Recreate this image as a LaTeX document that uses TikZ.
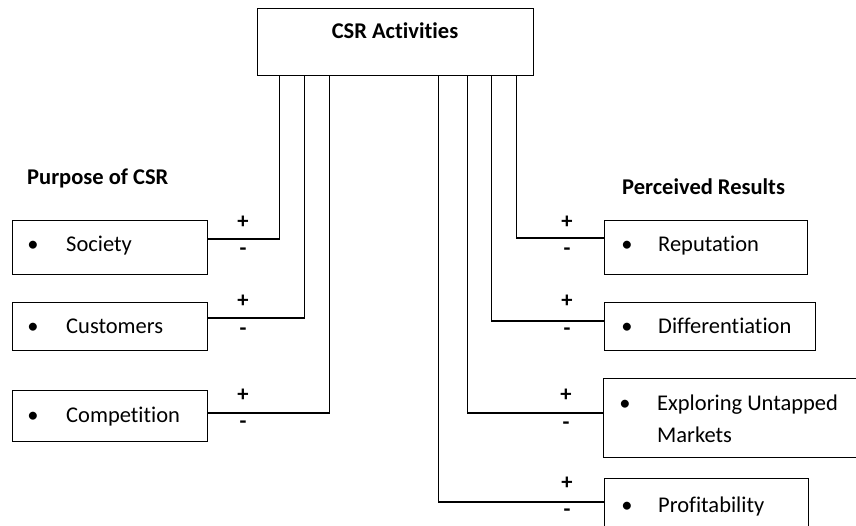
\documentclass[tikz,border=0pt]{standalone}
\usepackage{fontspec}
\setmainfont{Carlito}[Ligatures={NoCommon,NoContextual}]
\begin{document}
\begin{tikzpicture}[x=1pt,y=-1pt,
  box/.style={draw, line width=1.3pt, rectangle, inner sep=0pt, anchor=north west},
  lbl/.style={inner sep=0pt, anchor=base west, font=\fontsize{22.5}{32}\selectfont},
  bul/.style={inner sep=0pt, anchor=base, font=\fontsize{22.5}{32}\selectfont},
  ttl/.style={inner sep=0pt, anchor=base west, font=\fontsize{22.5}{32}\selectfont\bfseries},
  sgn/.style={inner sep=0pt, font=\fontsize{22.5}{32}\selectfont\bfseries},
  conn/.style={line width=1.3pt}]
\useasboundingbox (0,0) rectangle (856,525);
% top box
\node[box, minimum width=276pt, minimum height=67pt] (top) at (257,8) {};
\node[inner sep=0pt, anchor=base, font=\fontsize{22.5}{32}\selectfont\bfseries] (toptxt) at (395,38) {CSR Activities};
% titles
\node[ttl] (purpose) at (27,184) {Purpose of CSR};
\node[ttl] (perceived) at (622,194) {Perceived Results};
% left boxes
\node[box, minimum width=195pt, minimum height=54pt] (soc) at (12,220) {};
\node[bul] (socb) at (33,251) {•};
\node[lbl] (soct) at (66,251) {Society};
\node[box, minimum width=195pt, minimum height=48pt] (cus) at (12,302) {};
\node[bul] (cusb) at (33,333) {•};
\node[lbl] (cust) at (66,333) {Customers};
\node[box, minimum width=195pt, minimum height=51pt] (com) at (12,390) {};
\node[bul] (comb) at (33,422) {•};
\node[lbl] (comt) at (66,422) {Competition};
% right boxes
\node[box, minimum width=203pt, minimum height=54pt] (rep) at (604,220) {};
\node[bul] (repb) at (627,251) {•};
\node[lbl] (rept) at (658,251) {Reputation};
\node[box, minimum width=211pt, minimum height=48pt] (dif) at (604,302) {};
\node[bul] (difb) at (627,333) {•};
\node[lbl] (dift) at (658,333) {Differentiation};
\node[box, minimum width=270pt, minimum height=79pt] (exp) at (603,378) {};
\node[bul] (expb) at (625,410) {•};
\node[lbl] (expt1) at (657,410) {Exploring Untapped};
\node[lbl] (expt2) at (657,442) {Markets};
\node[box, minimum width=204pt, minimum height=70pt] (pro) at (604,478) {};
\node[bul] (prob) at (627,512) {•};
\node[lbl] (prot) at (658,512) {Profitability};
% connectors
\coordinate (s1) at (207,239);
\coordinate (s2) at (207,318);
\coordinate (s3) at (207,413);
\coordinate (r1) at (604,238);
\coordinate (r2) at (604,321);
\coordinate (r3) at (603,413);
\coordinate (r4) at (604,502);
\draw[conn] (s1) -| ([xshift=-116pt]top.south);
\draw[conn] (s2) -| ([xshift=-91pt]top.south);
\draw[conn] (s3) -| ([xshift=-66pt]top.south);
\draw[conn] (r1) -| ([xshift=121pt]top.south);
\draw[conn] (r2) -| ([xshift=96pt]top.south);
\draw[conn] (r3) -| ([xshift=72pt]top.south);
\draw[conn] (r4) -| ([xshift=43pt]top.south);
% signs
\node[sgn] (p1) at (243,222) {+};
\node[sgn] (m1) at (243,252) {-};
\node[sgn] (p2) at (243,301) {+};
\node[sgn] (m2) at (243,332) {-};
\node[sgn] (p3) at (243,395) {+};
\node[sgn] (m3) at (243,425) {-};
\node[sgn] (p4) at (567,222) {+};
\node[sgn] (m4) at (567,252) {-};
\node[sgn] (p5) at (567,301) {+};
\node[sgn] (m5) at (567,332) {-};
\node[sgn] (p6) at (566,395) {+};
\node[sgn] (m6) at (566,426) {-};
\node[sgn] (p7) at (567,483) {+};
\node[sgn] (m7) at (567,513) {-};
\end{tikzpicture}
\end{document}
